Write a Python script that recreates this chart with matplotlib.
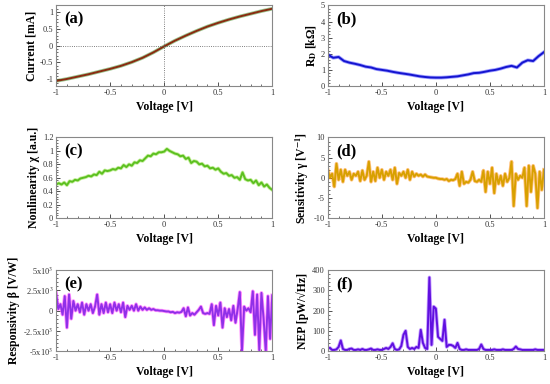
import numpy as np
import matplotlib.pyplot as plt
from matplotlib.ticker import MultipleLocator

plt.rcParams['font.family'] = ['Liberation Serif', 'DejaVu Serif']
plt.rcParams['mathtext.fontset'] = 'stix'

# (a) current vs voltage, 0.1 V steps
current = [-1.05, -0.99, -0.92, -0.85, -0.77, -0.69, -0.60, -0.49, -0.36, -0.20,
           -0.02, 0.15, 0.30, 0.44, 0.57, 0.68, 0.78, 0.87, 0.95, 1.03, 1.10]

# (b) differential resistance, 0.05 V steps
r_d = [1.95, 1.75, 1.80, 1.55, 1.45, 1.38, 1.30, 1.20, 1.15, 1.05,
       1.00, 0.95, 0.88, 0.82, 0.77, 0.72, 0.66, 0.60, 0.56, 0.53,
       0.52, 0.52, 0.54, 0.57, 0.60, 0.66, 0.72, 0.80, 0.82, 0.88,
       0.95, 1.00, 1.08, 1.18, 1.25, 1.15, 1.45, 1.60, 1.55, 1.85, 2.10]

# (c) nonlinearity, 0.025 V steps
nonlin = [0.50, 0.52, 0.50, 0.53, 0.49, 0.55, 0.54, 0.57, 0.56, 0.59,
          0.60, 0.61, 0.63, 0.62, 0.65, 0.64, 0.69, 0.66, 0.71, 0.70,
          0.71, 0.73, 0.72, 0.75, 0.74, 0.79, 0.76, 0.80, 0.78, 0.83,
          0.82, 0.86, 0.85, 0.89, 0.93, 0.92, 0.96, 0.95, 0.98, 0.98,
          0.99, 1.03, 1.00, 0.98, 0.96, 0.95, 0.92, 0.93, 0.88, 0.90,
          0.82, 0.85, 0.84, 0.80, 0.81, 0.77, 0.78, 0.74, 0.75, 0.72,
          0.74, 0.69, 0.66, 0.67, 0.63, 0.64, 0.60, 0.61, 0.57, 0.68,
          0.58, 0.56, 0.57, 0.52, 0.56, 0.49, 0.53, 0.47, 0.50, 0.45, 0.42]

# (d) sensitivity, 0.02 V steps
sens = [2.0, 0.0, 1.0, -2.2, 3.5, -0.5, 2.0, -1.0, 2.0, 0.5,
        1.5, -0.5, 1.0, 0.5, 1.5, -0.8, 1.8, -0.5, 0.5, 4.0,
        -1.0, 1.5, -0.8, 2.5, 0.0, 2.0, -0.5, 1.5, 0.5, 2.0,
        -0.5, 2.5, -1.5, 1.2, 0.5, 1.5, 0.0, 2.0, -0.5, 1.5,
        0.3, 1.0, 0.5, 0.8, 0.3, 0.8, 0.3, 0.2, 0.1, 0.0,
        0.0, -0.2, -0.3, -0.3, -0.5, -0.3, -0.8, -0.5, -0.6, -0.3,
        1.0, -2.0, 1.5, -1.5, -1.0, -1.2, -0.5, 1.5, -0.8, -1.0,
        -0.5, -1.0, 1.8, -3.5, 1.5, -1.5, 2.5, -3.8, 1.0, -1.5,
        0.5, -2.0, 1.0, -1.0, 0.0, 4.0, -7.0, 1.0, -0.5, 0.5,
        0.0, 2.5, -7.0, 3.0, -3.5, 3.0, 1.0, -7.5, 1.5, -3.0, 2.0]

# (e) responsivity, 0.02 V steps
resp = [2200, 200, 800, -500, 1800, -2100, 2000, -1000, 1200, 0,
        800, -200, 1000, -500, 800, 0, 800, -300, 500, 2000,
        -500, 800, -300, 1000, -200, 800, -300, 1000, 0, 800,
        -200, 1000, -800, 600, 100, 600, 0, 800, 0, 500,
        100, 400, 100, 300, 100, 200, 50, 50, 0, 0,
        -50, -100, -100, -200, -150, -300, -200, -250, -150, 300,
        -700, 400, -600, -300, -500, -200, 100, 500, -300, -400,
        -300, -400, 800, -1800, 600, -600, 1000, -2100, 300, -800,
        200, -1200, 600, -1500, 200, 2300, -5000, 500, 0, 300,
        -200, 2400, -3000, 2000, -4900, 2200, -1000, -5000, 1800, -3500, 1900]

# (f) NEP, 0.02 V steps
nep = [15, 15, 5, 5, 8, 20, 52, 10, 5, 5,
       10, 12, 5, 5, 8, 5, 10, 5, 5, 8,
       12, 5, 5, 8, 5, 5, 10, 15, 10, 20,
       38, 10, 5, 8, 25, 80, 100, 20, 10, 15,
       10, 20, 15, 105, 40, 15, 10, 365, 30, 220,
       210, 70, 60, 50, 155, 20, 30, 30, 25, 15,
       40, 10, 5, 5, 8, 5, 5, 5, 5, 5,
       10, 32, 10, 5, 5, 5, 5, 8, 5, 5,
       5, 8, 5, 5, 5, 5, 10, 22, 10, 8,
       5, 5, 5, 5, 5, 5, 8, 5, 5, 5, 5]

fig = plt.figure(figsize=(5.5, 3.84), dpi=100)

lefts = [0.102, 0.596]
bottoms = [0.776, 0.432, 0.086]
w, h = 0.393, 0.210

panels = [
    ('(a)', current, 'Current [mA]', (-1.2, 1.2), [-1, -0.5, 0, 0.5, 1], None, '#8a2a10', '#3a8a20'),
    ('(b)', r_d, r'R$_\mathbf{D}$ [kΩ]', (0, 5), [0, 1, 2, 3, 4, 5], None, '#1414d0', '#4040ff'),
    ('(c)', nonlin, 'Nonlinearity χ [a.u.]', (0, 1.2), [0, 0.2, 0.4, 0.6, 0.8, 1, 1.2], None, '#5cc020', '#90e040'),
    ('(d)', sens, r'Sensitivity γ [V$^{\mathbf{-1}}$]', (-10, 10), [-10, -5, 0, 5, 10], None, '#d8a000', '#ff8800'),
    ('(e)', resp, 'Responsivity β [V/W]', (-5000, 5000), [-5000, -2500, 0, 2500, 5000],
     [r'-5x10$^3$', r'-2.5x10$^3$', '0', r'2.5x10$^3$', r'5x10$^3$'], '#9030e8', '#ff20ff'),
    ('(f)', nep, 'NEP [pW/√Hz]', (0, 400), [0, 100, 200, 300, 400], None, '#6010e0', '#9040ff'),
]

for i, (tag, vals, ylab, ylim, yticks, yticklabels, col, col2) in enumerate(panels):
    ax = fig.add_axes([lefts[i % 2], bottoms[i // 2], w, h])
    v = np.linspace(-1, 1, len(vals))
    ax.plot(v, vals, color=col2, lw=2.6, alpha=0.5)
    ax.plot(v, vals, color=col, lw=1.4)
    if i == 0:
        ax.axhline(0, color='#555555', lw=0.6, ls=':')
        ax.axvline(0, color='#555555', lw=0.6, ls=':')
    ax.set_xlim(-1, 1)
    ax.set_ylim(*ylim)
    ax.set_xticks([-1, -0.5, 0, 0.5, 1])
    ax.set_xticklabels(['-1', '-0.5', '0', '0.5', '1'])
    ax.xaxis.set_minor_locator(MultipleLocator(0.1))
    ax.set_yticks(yticks)
    if yticklabels:
        ax.set_yticklabels(yticklabels)
    else:
        ax.set_yticklabels([('%g' % t) for t in yticks])
    step = yticks[1] - yticks[0]
    ax.yaxis.set_minor_locator(MultipleLocator(step / 5))
    ax.tick_params(which='both', direction='in', labelsize=6, colors='#333333', pad=2)
    ax.tick_params(which='major', length=3, width=0.6)
    ax.tick_params(which='minor', length=1.5, width=0.5)
    for s in ax.spines.values():
        s.set_color('#888888')
        s.set_linewidth(0.8)
    ax.set_xlabel('Voltage [V]', fontsize=8.5, fontweight='bold', labelpad=3)
    ax.set_ylabel(ylab, fontsize=8.5, fontweight='bold', labelpad=2)
    ax.text(0.04, 0.93, tag, transform=ax.transAxes, fontsize=12, fontweight='bold', va='top', ha='left')

fig.savefig('out.png', dpi=100)
